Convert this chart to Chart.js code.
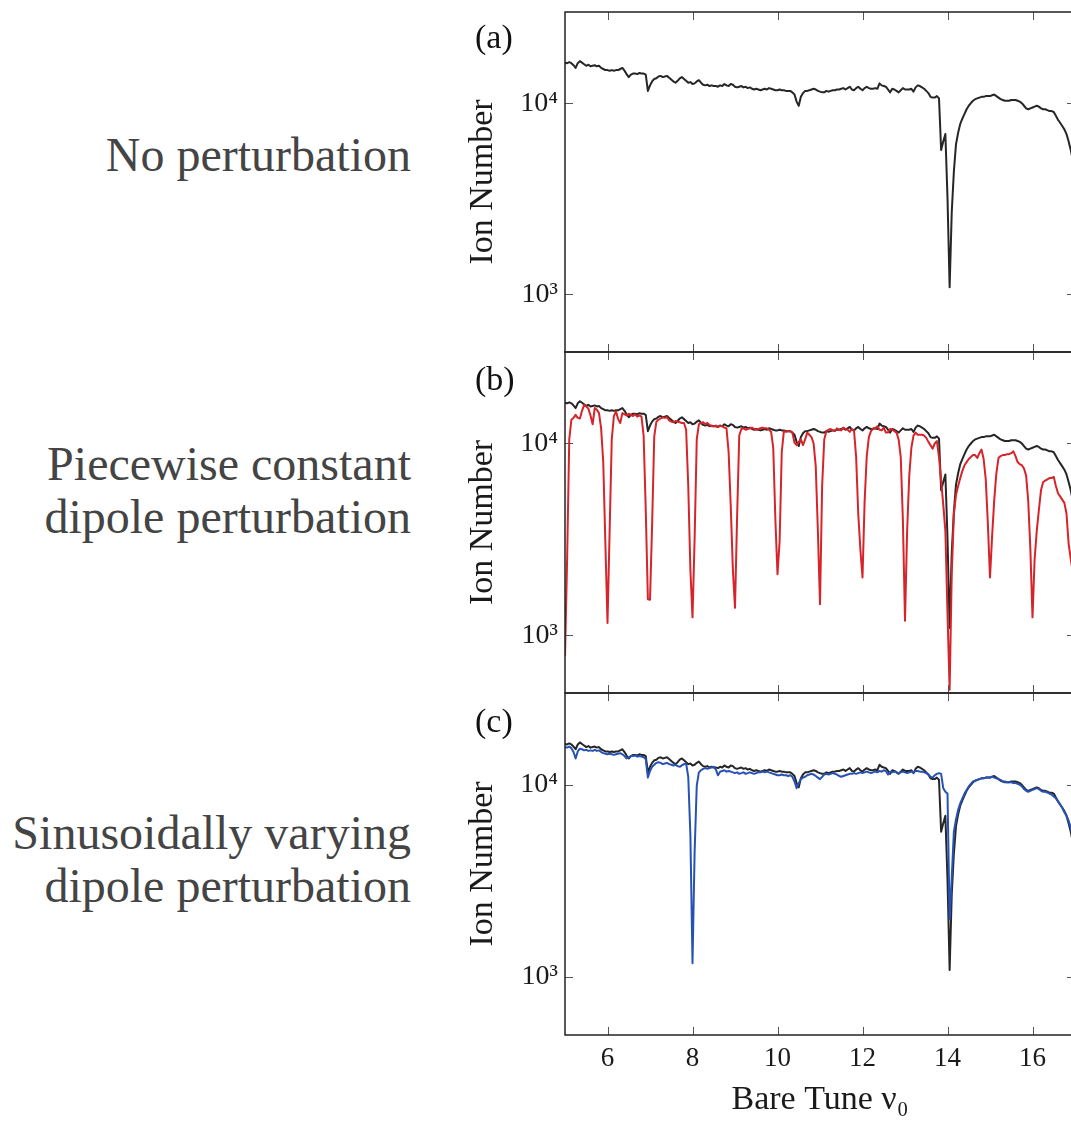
<!DOCTYPE html>
<html>
<head>
<meta charset="utf-8">
<script src="https://cdn.jsdelivr.net/npm/chart.js@4.4.1/dist/chart.umd.min.js"></script>
<style>
  html, body { margin: 0; padding: 0; background: #fff; overflow: hidden; }
  body { width: 1071px; height: 1122px; position: relative; font-family: "Liberation Serif", serif; }
  canvas { position: absolute; left: 440px; }
  .case { position: absolute; right: 660px; text-align: right; color: #444; font-size: 48px; line-height: 53px; white-space: nowrap; }
  .tag { position: absolute; left: 475px; font-size: 34px; line-height: 40px; color: #111; }
</style>
</head>
<body>
<div class="case" style="top:128px">No perturbation</div>
<div class="case" style="top:437px">Piecewise constant<br>dipole perturbation</div>
<div class="case" style="top:806px">Sinusoidally varying<br>dipole perturbation</div>

<canvas id="panelA" width="640" height="360" style="top:0px"></canvas>
<canvas id="panelB" width="640" height="360" style="top:340px"></canvas>
<canvas id="panelC" width="640" height="441" style="top:681px"></canvas>

<div class="tag" style="top:17px">(a)</div>
<div class="tag" style="top:359px">(b)</div>
<div class="tag" style="top:701px">(c)</div>

<script>
// bare tune grid, 5.00 .. 17.00 in steps of 0.05
const tune = [];
for (let i = 0; i <= 240; i++) tune.push(Math.round((5 + i * 0.05) * 100) / 100);

// ion number, no perturbation (one row per unit of tune)
const noPerturbation = [
  16300, 16200, 16400, 16200, 15800, 15300, 16200, 16600, 16300, 16000, 15700, 15900, 15600, 15700, 15800, 15600, 15700, 15300, 15100, 14900,
  14900, 14800, 14900, 14800, 14900, 14900, 15100, 15300, 14800, 14200, 13700, 14100, 14300, 14300, 14200, 14400, 14300, 14300, 14100, 11600,
  12400, 13000, 13400, 13500, 13800, 13900, 13700, 13800, 13900, 13600, 13300, 13000, 12800, 13100, 13500, 13700, 13400, 13100, 12800, 12900,
  12600, 12700, 13000, 13200, 12800, 12500, 12400, 12500, 12300, 12400, 12300, 12300, 12200, 12400, 12300, 12600, 12400, 12300, 12600, 12500,
  12200, 12100, 12200, 12300, 12100, 12200, 12000, 12100, 11900, 11800, 11900, 11800, 11700, 11800, 11900, 11800, 12000, 11900, 11800, 11700,
  11700, 11800, 11700, 11700, 11600, 11600, 11600, 11400, 11100, 10200, 9700, 10800, 11300, 11600, 11600, 11700, 11800, 11900, 11800, 11600,
  11500, 11400, 11400, 11600, 11500, 11600, 11700, 11700, 11800, 11800, 11900, 12000, 11800, 12000, 12200, 11800, 11700, 12000, 12200, 11900,
  11700, 12000, 12200, 12000, 11900, 11900, 12000, 11900, 12700, 12400, 12300, 12200, 11800, 11400, 11900, 11800, 11600, 11400, 11700, 12000,
  11800, 11800, 11800, 11900, 11500, 12100, 12400, 12300, 12100, 11900, 11600, 11300, 10800, 10700, 10700, 10900, 10600, 5700, 6300, 6900,
  3200, 1090, 2700, 4400, 6100, 7000, 7800, 8300, 8800, 9300, 9700, 10000, 10300, 10500, 10600, 10700, 10800, 10800, 10900, 10900,
  10900, 11000, 11100, 10900, 10700, 10500, 10400, 10300, 10300, 10300, 10400, 10400, 10400, 10300, 10200, 10000, 9700, 9400, 9300, 9400,
  9500, 9600, 9700, 9600, 9400, 9300, 9300, 9200, 9100, 9100, 9000, 8600, 8200, 7900, 7600, 7300, 6900, 6300, 5700, 5000,
  4400
];

// ion number, piecewise constant dipole perturbation
const piecewiseDipole = [
  780, 2500, 10500, 13300, 13600, 14100, 13600, 13500, 14800, 15900, 15600, 15200, 14000, 12600, 15300, 15000, 14400, 12000, 8000, 3000,
  1160, 3500, 10500, 13900, 14700, 13400, 12800, 14400, 14200, 14000, 14300, 14100, 13900, 14200, 13800, 14000, 13800, 11000, 4500, 1540,
  1530, 3800, 10900, 13000, 13300, 13500, 13700, 13600, 13700, 13200, 13000, 12900, 13100, 13000, 12900, 12800, 12800, 11800, 6000, 2200,
  1240, 3200, 10500, 12600, 12800, 12900, 12600, 12800, 12500, 12300, 12300, 12400, 12200, 12400, 12300, 12100, 12000, 9000, 4700, 2200,
  1390, 4200, 11000, 11900, 12000, 11800, 11900, 12000, 12100, 11900, 11800, 11900, 12000, 12100, 12000, 12000, 11800, 11500, 9500, 4000,
  2080, 3100, 9000, 11600, 11500, 11600, 11600, 11400, 10100, 9800, 10200, 10500, 9800, 10500, 11400, 11100, 10800, 10000, 7600, 3500,
  1450, 6000, 10500, 11600, 11800, 11900, 11700, 11600, 12000, 11800, 11700, 12100, 11900, 11800, 11500, 11900, 11700, 8500, 4300, 2800,
  2000, 5000, 8600, 10800, 11600, 12000, 12000, 12300, 11800, 11700, 12100, 11400, 11400, 11900, 11800, 11600, 11400, 10500, 8500, 4000,
  1190, 3500, 6800, 9500, 11000, 11400, 11100, 11100, 11100, 11000, 10700, 10200, 9800, 9400, 10000, 10300, 8500, 6400, 4800, 3500,
  1300, 520, 2100, 4300, 5400, 6000, 6600, 7200, 7700, 8000, 8300, 8500, 8700, 8700, 8400, 8900, 9300, 8300, 6500, 3800,
  2000, 3300, 5100, 7000, 8400, 8600, 8700, 8700, 8800, 8800, 8900, 9100, 8600, 8000, 7800, 7700, 7400, 6800, 5000, 2800,
  1240, 2500, 3500, 4500, 5700, 6300, 6400, 6500, 6600, 6600, 6700, 6000, 5500, 5300, 5100, 4900, 4300, 3000, 2500, 2100,
  1800
];

// ion number, sinusoidally varying dipole perturbation
const sinusoidalDipole = [
  15700, 15600, 15800, 15500, 14800, 13700, 14900, 15400, 15300, 15100, 15200, 15000, 15100, 15000, 15200, 15000, 15100, 14800, 14600, 14500,
  14400, 14500, 14400, 14300, 14400, 14500, 14600, 14400, 14100, 13700, 13900, 14100, 14100, 14200, 14000, 14100, 14000, 13900, 13600, 10900,
  11800, 12400, 12700, 13000, 13100, 13000, 12800, 12900, 13000, 12800, 12700, 12600, 12700, 12500, 12400, 12600, 12800, 12900, 11000, 5500,
  1180, 4500, 9900, 11600, 11900, 12100, 12200, 12100, 12200, 12300, 12400, 12000, 11200, 11700, 11800, 11900, 11700, 11800, 11700, 11600,
  11500, 11600, 11400, 11500, 11600, 11400, 11500, 11600, 11500, 11400, 11500, 11600, 11600, 11700, 11600, 11700, 11600, 11500, 11400, 11300,
  11200, 11200, 11300, 11200, 11200, 11100, 11200, 11000, 10400, 9600, 10200, 10700, 10900, 11000, 11200, 11300, 11400, 11300, 11100, 10900,
  10700, 11000, 11300, 11400, 11300, 11400, 11500, 11400, 11300, 11100, 11000, 11100, 11200, 11300, 11400, 11400, 11500, 11400, 11500, 11600,
  11500, 11600, 11700, 11600, 11500, 11600, 11700, 11600, 11800, 11700, 11900, 11800, 11300, 11700, 11600, 11700, 11600, 11500, 11600, 11700,
  11600, 11500, 11600, 11700, 11600, 11800, 11800, 11700, 11700, 11600, 11500, 11300, 11000, 10900, 11200, 11400, 11500, 11400, 9600, 9200,
  9000, 2000, 3300, 5700, 6600, 7400, 8000, 8500, 9000, 9400, 9800, 10100, 10400, 10500, 10600, 10700, 10800, 10800, 10900, 10900,
  10900, 11000, 10900, 10800, 10700, 10600, 10400, 10400, 10300, 10300, 10300, 10200, 10200, 10100, 10000, 9800, 9500, 9300, 9200, 9300,
  9400, 9500, 9600, 9500, 9300, 9200, 9200, 9100, 9000, 8900, 8700, 8500, 8200, 7900, 7600, 7200, 6900, 6500, 6000, 5400,
  4800
];

const xLabels = [6, 8, 10, 12, 14, 16];
const yLabels = { 3: '10³', 4: '10⁴' };

const serif = 'Liberation Serif';
const black = '#262626';
const red = 'rgb(214, 36, 42)';
const blue = 'rgb(38, 82, 182)';

// frame box and inward tick marks, placed from the chart's own scales
const frame = {
  id: 'frame',
  afterDatasetsDraw(chart) {
    const { ctx, chartArea: a, scales: { x, y } } = chart;
    ctx.save();
    ctx.lineWidth = 1;
    ctx.strokeStyle = '#555';
    ctx.beginPath();
    for (const t of x.ticks) {
      if (t.value <= x.min || t.value >= x.max) continue;
      const px = Math.round(x.getPixelForValue(t.value)) + 0.5;
      const len = t.value % 2 === 0 ? 8 : 4.5;
      ctx.moveTo(px, a.top); ctx.lineTo(px, a.top + len);
      ctx.moveTo(px, a.bottom); ctx.lineTo(px, a.bottom - len);
    }
    for (const t of y.ticks) {
      const v = t.value;
      if (v <= y.min || v >= y.max) continue;
      const e = Math.floor(Math.log10(v) + 1e-9);
      const m = v / Math.pow(10, e);
      if (Math.abs(m - Math.round(m)) > 1e-6) continue;
      const py = Math.round(y.getPixelForValue(v)) + 0.5;
      const len = Math.round(m) === 1 ? 8 : 4.5;
      ctx.moveTo(a.left, py); ctx.lineTo(a.left + len, py);
      ctx.moveTo(a.right, py); ctx.lineTo(a.right - len, py);
    }
    ctx.stroke();
    ctx.strokeStyle = '#222';
    ctx.lineWidth = 1.5;
    ctx.strokeRect(a.left, a.top, a.right - a.left, a.bottom - a.top);
    ctx.restore();
  }
};

function points(values) {
  return tune.map((t, i) => ({ x: t, y: values[i] }));
}

function line(values, color) {
  return {
    data: points(values),
    borderColor: color,
    borderWidth: 2,
    pointRadius: 0,
    tension: 0,
    borderJoinStyle: 'round',
    fill: false
  };
}

function makePanel(id, datasets, xHeight, showX) {
  return new Chart(document.getElementById(id), {
    type: 'line',
    data: { datasets },
    options: {
      responsive: false,
      animation: false,
      devicePixelRatio: 1,
      events: [],
      layout: { padding: { top: 12, right: 5, left: 0, bottom: 0 } },
      plugins: { legend: { display: false }, tooltip: { enabled: false } },
      scales: {
        x: {
          type: 'linear',
          min: 5,
          max: 17,
          grid: { display: false, drawTicks: false },
          border: { display: false },
          ticks: {
            display: showX,
            stepSize: 1,
            autoSkip: false,
            maxRotation: 0,
            padding: 8,
            color: '#1a1a1a',
            font: { family: serif, size: 27 },
            callback: v => xLabels.includes(v) ? String(v) : null
          },
          title: {
            display: showX,
            text: 'Bare Tune ν₀',
            color: '#1a1a1a',
            font: { family: serif, size: 34 },
            padding: { top: 0, bottom: 2 }
          },
          afterFit: s => {
            s.height = xHeight;
            s.paddingLeft = 0;
            s.paddingRight = 0;
          }
        },
        y: {
          type: 'logarithmic',
          min: 500,
          max: 30000,
          grid: { display: false, drawTicks: false },
          border: { display: false },
          ticks: {
            autoSkip: false,
            padding: 7,
            color: '#1a1a1a',
            font: { family: serif, size: 28 },
            callback: v => {
              const e = Math.log10(v);
              if (Math.abs(e - Math.round(e)) > 1e-6) return null;
              return yLabels[Math.round(e)] ?? null;
            }
          },
          title: {
            display: true,
            text: 'Ion Number',
            color: '#1a1a1a',
            font: { family: serif, size: 34 },
            padding: { top: 23, bottom: 0 }
          },
          afterFit: s => {
            s.width = 125;
            s.paddingTop = 0;
            s.paddingBottom = 0;
          }
        }
      }
    },
    plugins: [frame]
  });
}

makePanel('panelA', [line(noPerturbation, black)], 8, false);
makePanel('panelB', [line(piecewiseDipole, red), line(noPerturbation, black)], 7, false);
makePanel('panelC', [line(sinusoidalDipole, blue), line(noPerturbation, black)], 87, true);
</script>
</body>
</html>
